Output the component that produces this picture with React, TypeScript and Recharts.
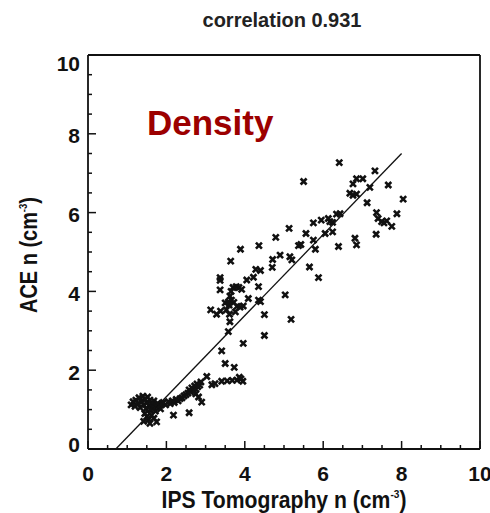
import React from "react";
import { ScatterChart, Scatter, XAxis, YAxis } from "recharts";

// IPS tomography density (x) vs ACE density (y)
const lowCluster: [number, number][] = [
  [1.10, 1.12], [1.15, 1.20], [1.20, 1.08], [1.22, 1.24], [1.28, 1.15], [1.30, 1.30],
  [1.33, 1.05], [1.36, 1.20], [1.40, 1.34], [1.42, 1.12], [1.45, 1.26], [1.48, 1.02],
  [1.50, 1.18], [1.52, 1.32], [1.55, 1.10], [1.58, 1.24], [1.60, 0.98], [1.62, 1.15],
  [1.65, 1.05], [1.68, 1.22], [1.70, 1.12], [1.72, 0.96], [1.75, 1.08], [1.78, 1.16],
  [1.82, 1.10], [1.85, 1.02], [1.88, 1.15], [1.45, 0.90], [1.50, 0.82], [1.55, 0.75],
  [1.42, 0.70], [1.58, 0.65], [1.75, 0.69], [1.62, 0.86], [1.68, 0.78], [1.92, 1.18],
  [1.98, 1.12], [2.05, 1.20], [2.10, 1.15], [2.15, 1.22], [2.20, 1.18], [2.25, 1.26],
  [2.30, 1.22], [2.35, 1.28], [2.40, 1.30], [2.45, 1.35], [2.50, 1.38], [2.55, 1.42],
  [2.58, 1.50], [2.62, 1.45], [2.65, 1.55], [2.70, 1.48], [2.72, 1.60], [2.75, 1.52],
  [2.78, 1.65], [2.80, 1.58], [2.85, 1.62], [2.88, 1.70], [2.75, 1.40], [2.82, 1.32],
  [2.90, 1.19], [2.18, 0.86], [2.58, 0.92],
];

const bandCluster: [number, number][] = [
  [3.03, 1.84], [3.16, 1.63], [3.24, 1.66], [3.41, 1.72], [3.55, 1.73], [3.68, 1.74],
  [3.80, 1.75], [3.90, 1.78], [3.95, 1.72], [3.86, 1.82], [3.41, 2.49], [3.96, 2.68],
  [3.50, 2.17], [3.73, 2.07], [3.58, 2.98],
];

const midCluster: [number, number][] = [
  [3.37, 4.35], [3.37, 4.28], [3.37, 4.04], [3.64, 4.77], [3.89, 5.07], [4.05, 4.29],
  [4.22, 4.36], [4.35, 4.12], [3.70, 4.10], [3.78, 4.12], [3.85, 4.10], [3.92, 4.05],
  [3.65, 4.00], [3.62, 3.88], [3.66, 3.78], [3.72, 3.72], [3.60, 3.65], [3.50, 3.71],
  [3.58, 3.73], [3.80, 3.62], [3.88, 3.60], [3.96, 3.63], [4.09, 3.82], [4.35, 3.78],
  [4.40, 3.74], [3.13, 3.53], [3.28, 3.42], [3.38, 3.50], [3.53, 3.53], [3.61, 3.42],
  [3.76, 3.48], [3.62, 3.23], [4.50, 3.41], [5.18, 3.29], [4.50, 2.88], [5.03, 3.91],
  [4.28, 4.56], [4.40, 4.53],
];

const highCluster: [number, number][] = [
  [4.36, 5.16], [4.79, 5.37], [5.13, 5.60], [5.37, 5.16], [5.43, 5.19], [4.71, 4.81],
  [4.90, 4.92], [5.15, 4.88], [5.20, 4.80], [4.70, 4.61], [5.65, 4.62], [5.88, 4.35],
  [5.50, 6.79], [5.56, 5.47], [5.75, 5.30], [5.75, 5.74], [5.95, 5.81], [6.05, 5.47],
  [6.24, 5.51], [6.17, 5.77], [6.24, 5.75], [5.80, 5.07], [6.39, 5.14], [6.81, 5.35],
  [6.85, 5.18], [7.35, 5.45], [6.13, 5.85], [6.34, 5.96], [6.43, 5.97], [6.41, 7.27],
  [6.68, 6.49], [6.76, 6.44], [6.85, 6.47], [6.76, 6.73], [6.85, 6.86], [7.01, 6.86],
  [7.32, 7.06], [7.19, 6.64], [7.66, 6.70], [7.12, 6.25], [8.04, 6.34], [7.36, 6.00],
  [7.40, 5.85], [7.49, 5.77], [7.62, 5.79], [7.75, 5.65], [7.88, 5.97], [7.55, 5.74],
];

// least-squares fit line end points
const fitIps = [0.71, 8.0];
const fitAce = [0, 7.5];

const majorTicks = [0, 2, 4, 6, 8, 10];
const allTicks = [0, 0.5, 1, 1.5, 2, 2.5, 3, 3.5, 4, 4.5, 5, 5.5, 6, 6.5, 7, 7.5, 8, 8.5, 9, 9.5, 10];

const points = [...lowCluster, ...bandCluster, ...midCluster, ...highCluster].map(([x, y]) => ({ x, y }));
const fitData = fitIps.map((x, i) => ({ x, y: fitAce[i] }));

const FONT = "'Liberation Sans', Arial, sans-serif";
const INK = "#111";

const isMajor = (v: number) => majorTicks.includes(v);
const tickLen = (v: number) => (isMajor(v) ? 8 : 4);

const renderBottomTick = (props: any) => {
  const x = Number(props.x);
  const y = Number(props.y);
  const v = props.payload.value;
  return (
    <g key={`b-${v}`}>
      <path d={`M${x},${y}V${y - tickLen(v)}`} stroke={INK} strokeWidth={1.5} />
      {isMajor(v) && (
        <text x={x} y={y + 32} textAnchor="middle" fontSize={21} fontWeight="bold" fontFamily={FONT} fill={INK}>
          {v}
        </text>
      )}
    </g>
  );
};

const renderTopTick = (props: any) => {
  const x = Number(props.x);
  const y = Number(props.y);
  const v = props.payload.value;
  return <path key={`t-${v}`} d={`M${x},${y}V${y + tickLen(v)}`} stroke={INK} strokeWidth={1.5} />;
};

const renderLeftTick = (props: any) => {
  const x = Number(props.x);
  const y = Number(props.y);
  const v = props.payload.value;
  const shift = v === 0 ? 2.5 : v === 10 ? 15.5 : 9.5;
  return (
    <g key={`l-${v}`}>
      <path d={`M${x},${y}H${x + tickLen(v)}`} stroke={INK} strokeWidth={1.5} />
      {isMajor(v) && (
        <text x={x - 8} y={y + shift} textAnchor="end" fontSize={21} fontWeight="bold" fontFamily={FONT} fill={INK}>
          {v}
        </text>
      )}
    </g>
  );
};

const renderRightTick = (props: any) => {
  const x = Number(props.x);
  const y = Number(props.y);
  const v = props.payload.value;
  return <path key={`r-${v}`} d={`M${x},${y}H${x - tickLen(v)}`} stroke={INK} strokeWidth={1.5} />;
};

const Cross = ({ cx, cy }: any) => (
  <path
    d={`M${cx - 3},${cy - 3}L${cx + 3},${cy + 3}M${cx - 3},${cy + 3}L${cx + 3},${cy - 3}`}
    stroke={INK}
    strokeWidth={2.6}
    fill="none"
  />
);

const axisLine = { stroke: INK, strokeWidth: 1.8 };

export default function App() {
  return (
    <div style={{ position: "absolute", left: 0, top: 0, width: 490, height: 513, background: "#fff" }}>
      <ScatterChart width={490} height={513} margin={{ top: 54, right: 9, left: 0, bottom: 0 }}>
        <XAxis
          dataKey="x"
          type="number"
          domain={[0, 10]}
          ticks={allTicks}
          interval={0}
          height={64}
          tickSize={0}
          tickMargin={0}
          axisLine={axisLine}
          tickLine={false}
          tick={renderBottomTick}
        />
        <XAxis
          xAxisId="top"
          orientation="top"
          dataKey="x"
          type="number"
          domain={[0, 10]}
          ticks={allTicks}
          interval={0}
          height={1}
          tickSize={0}
          tickMargin={0}
          axisLine={axisLine}
          tickLine={false}
          tick={renderTopTick}
        />
        <YAxis
          dataKey="y"
          type="number"
          domain={[0, 10]}
          ticks={allTicks}
          interval={0}
          width={88}
          tickSize={0}
          tickMargin={0}
          axisLine={axisLine}
          tickLine={false}
          tick={renderLeftTick}
        />
        <YAxis
          yAxisId="right"
          orientation="right"
          dataKey="y"
          type="number"
          domain={[0, 10]}
          ticks={allTicks}
          interval={0}
          width={1}
          tickSize={0}
          tickMargin={0}
          axisLine={axisLine}
          tickLine={false}
          tick={renderRightTick}
        />
        <Scatter
          data={fitData}
          line={{ stroke: INK, strokeWidth: 1.3 }}
          shape={() => <g />}
          isAnimationActive={false}
        />
        <Scatter data={points} shape={<Cross />} isAnimationActive={false} />
      </ScatterChart>
      <svg width={490} height={513} style={{ position: "absolute", left: 0, top: 0, pointerEvents: "none" }}>
        <text x={282} y={27} textAnchor="middle" fontSize={20} fontWeight="bold" fontFamily={FONT} fill="#222">
          correlation 0.931
        </text>
        <text x={147} y={135} fontSize={35} fontWeight="bold" fontFamily={FONT} fill="#9c0000">
          Density
        </text>
        <text
          x={284}
          y={508}
          textAnchor="middle"
          fontSize={23}
          fontWeight="bold"
          fontFamily={FONT}
          fill={INK}
          textLength={245}
          lengthAdjust="spacingAndGlyphs"
        >
          IPS Tomography n (cm<tspan fontSize={11} dy={-10}>-3</tspan>
          <tspan dy={10}>)</tspan>
        </text>
        <text
          x={37}
          y={255}
          transform="rotate(-90, 37, 255)"
          textAnchor="middle"
          fontSize={23}
          fontWeight="bold"
          fontFamily={FONT}
          fill={INK}
          textLength={116}
          lengthAdjust="spacingAndGlyphs"
        >
          ACE n (cm<tspan fontSize={11} dy={-10}>-3</tspan>
          <tspan dy={10}>)</tspan>
        </text>
      </svg>
    </div>
  );
}
